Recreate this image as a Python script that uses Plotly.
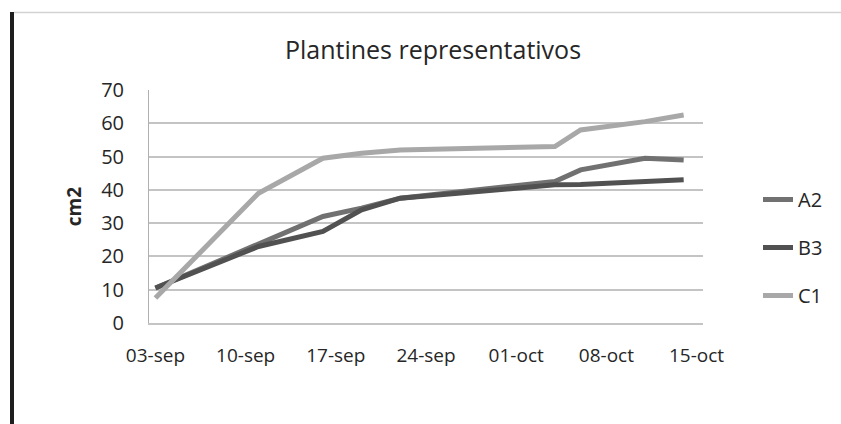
import plotly.graph_objects as go

# Measurement dates and leaf area (cm2) for each representative seedling
dates = ["2013-09-03", "2013-09-11", "2013-09-16", "2013-09-19", "2013-09-22",
         "2013-10-04", "2013-10-06", "2013-10-11", "2013-10-14"]
a2 = [10.5, 23.5, 32.0, 34.5, 37.5, 42.5, 46.0, 49.5, 49.0]
b3 = [10.5, 23.0, 27.5, 34.0, 37.5, 41.5, 41.6, 42.3, 43.0]
c1 = [7.5, 39.0, 49.5, 51.0, 52.0, 53.0, 58.0, 60.5, 62.5]

tick_dates = ["2013-09-03", "2013-09-10", "2013-09-17", "2013-09-24",
              "2013-10-01", "2013-10-08", "2013-10-15"]
tick_text = ["03-sep", "10-sep", "17-sep", "24-sep", "01-oct", "08-oct", "15-oct"]
y_ticks = [0, 10, 20, 30, 40, 50, 60, 70]

series = [("A2", a2, "#717171"), ("B3", b3, "#515151"), ("C1", c1, "#a8a8a8")]

W, H = 841, 424
L, R, T, B = 149, 138, 90, 101
pw, ph = W - L - R, H - T - B

fig = go.Figure()
for name, vals, col in series:
    fig.add_trace(go.Scatter(
        x=dates, y=vals, name=name, mode="lines", legendgroup=name,
        line=dict(color=col, width=5),
    ))

font = "Open Sans, Noto Sans, sans-serif"
txt = "#262626"
grid = "#c4c4c4"

fig.update_layout(
    width=W, height=H,
    margin=dict(l=L, r=R, t=T, b=B),
    paper_bgcolor="white", plot_bgcolor="white",
    title=dict(text="Plantines representativos", x=433 / W, xref="container",
               y=1 - 50 / H, yref="container", xanchor="center", yanchor="middle",
               font=dict(family=font, size=25, color=txt)),
    showlegend=True,
    legend=dict(x=(758 - L) / pw, y=(T + ph - 202 + 22) / ph, xanchor="left", yanchor="top",
                font=dict(family=font, size=20, color=txt),
                tracegroupgap=19, bgcolor="rgba(0,0,0,0)"),
    xaxis=dict(
        type="date", range=["2013-09-02 12:00", "2013-10-15 12:00"],
        tickmode="array", tickvals=tick_dates, ticktext=tick_text,
        showgrid=False, zeroline=False, showline=True, linecolor=grid, linewidth=1.5,
        ticks="", ticklabelstandoff=14,
        tickfont=dict(family=font, size=19, color=txt),
    ),
    yaxis=dict(
        range=[0, 70], tickmode="array", tickvals=y_ticks,
        showgrid=True, gridcolor=grid, gridwidth=1.5, zeroline=False,
        showline=True, linecolor="#b0b0b0", linewidth=1,
        ticks="", ticklabelstandoff=20,
        tickfont=dict(family=font, size=20, color=txt),
        title=dict(text="<b>cm2</b>", standoff=14,
                   font=dict(family=font, size=19, color=txt)),
    ),
    shapes=[
        # dark frame edge on the left side
        dict(type="rect", xref="paper", yref="paper",
             x0=(10 - L) / pw, x1=(14 - L) / pw,
             y0=(T + ph - H) / ph, y1=(T + ph - 12) / ph,
             fillcolor="#1e1e1e", line=dict(width=0), layer="above"),
        # thin top frame line
        dict(type="line", xref="paper", yref="paper",
             x0=(14 - L) / pw, x1=(W - L) / pw,
             y0=(T + ph - 12.5) / ph, y1=(T + ph - 12.5) / ph,
             line=dict(color="#d2d2d2", width=1.5)),
    ],
)

fig.write_html("out.html")
